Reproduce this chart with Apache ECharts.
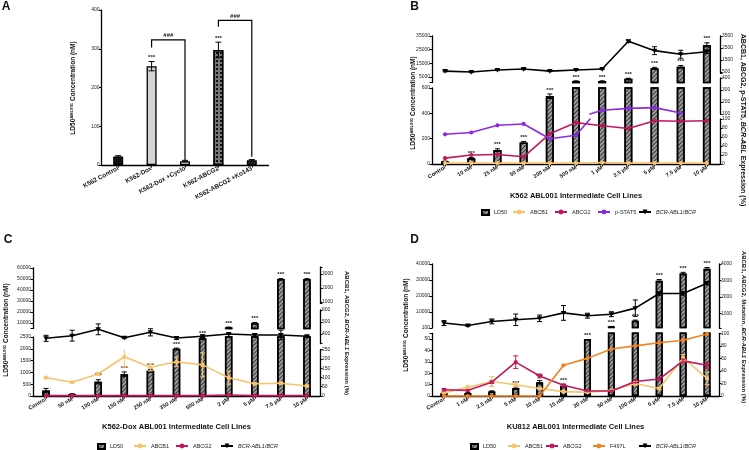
<!DOCTYPE html>
<html><head><meta charset="utf-8">
<script src="https://cdn.jsdelivr.net/npm/echarts@6/dist/echarts.min.js"></script>
<style>html,body{margin:0;padding:0;background:#fff}#c{width:749px;height:450px}</style>
</head><body><div id="c"></div>
<script>
// ---------------- DATA ----------------
// Panel A
const aCats = ['K562 Control','K562-Dox','K562-Dox +Cyclo','K562-ABCG2','K562-ABCG2 +Ko143'];
const aLD50 = [22, 255, 10, 297, 12];
const aLD50Err = [2, 12, 2, 20, 2];
const aStars = [0, 3, 0, 3, 0];
// [from category, to category, left start value, top value, right end value]
const aBrackets = [[1, 2, 303, 323, 13], [3, 4, 357, 373, 21]];

// Panel B
const bCats = ['Control','10 nM','25 nM','50 nM','200 nM','500 nM','1 µM','2.5 µM','5 µM','7.5 µM','10 µM'];
const bLD50 = [20, 45, 110, 170, 535, 2000, 2000, 3800, 11500, 12500, 28500];
const bLD50Err = [3, 6, 10, 8, 18, 200, 200, 300, 600, 900, 1500];
const bStars = [0, 3, 3, 3, 3, 3, 3, 3, 3, 3, 3];
const bABCB1 = [2, 2, 2, 2, 2, 2, 3, 2, 2, 2, 2];
const bABCG2 = [13, 20, 21, 16, 67, 92, 85, 79, 96, 95, 96];
const bPSTAT5 = [66, 70, 86, 89, 56, 64, 131, 147, 153, 108];
const bBCR = [580, 500, 670, 750, 580, 670, 750, 3060, 2280, 1980, 2190];
const bBCRErr = [60, 50, 50, 60, 50, 50, 50, 100, 330, 330, 150];

// Panel C
const cCats = ['Control','50 nM','100 nM','150 nM','250 nM','350 nM','500 nM','2 µM','5 µM','7.5 µM','10 µM'];
const cLD50 = [230, 80, 600, 920, 1070, 2000, 2450, 6000, 10000, 50000, 50000];
const cLD50Err = [90, 20, 90, 100, 60, 30, 50, 300, 500, 300, 300];
const cStars = [0, 0, 3, 3, 3, 3, 3, 3, 3, 3, 3];
const cABCB1 = [99, 74, 119, 212, 155, 185, 168, 99, 66, 69, 54];
const cABCB1Err = [5, 4, 8, 55, 20, 25, 65, 35, 5, 5, 5];
const cABCG2 = [2, 2, 2, 2, 2, 2, 2, 5, 2, 2, 2];
const cBCR = [364, 386, 439, 369, 414, 367, 381, 400, 392, 392, 381];
const cBCRErr = [25, 45, 45, 8, 30, 12, 10, 5, 12, 40, 5];

// Panel D
const dCats = ['Control','1 nM','2.5 nM','5 nM','10 nM','15 nM','20 nM','50 nM','100 nM','5 µM','7.5 µM','10 µM'];
const dLD50 = [2.5, 2.5, 4, 7, 12, 9, 50, 1000, 4600, 29500, 34000, 37000];
const dLD50Err = [0.5, 0.5, 0.5, 1, 1.5, 1, 0, 100, 400, 800, 800, 800];
const dStars = [0, 0, 1, 3, 3, 3, 3, 3, 3, 3, 3, 3];
const dABCB1 = [5, 14, 23, 18, 12, 7, 6, 9, 20, 12, 61, 28];
const dABCB1Err = [1, 2, 8, 3, 2, 1, 1, 1, 3, 2, 5, 10];
const dABCG2 = [10, 9, 22, 54, 32, 17, 8, 8, 23, 27, 56, 49];
const dABCG2Err = [2, 1, 2, 10, 3, 2, 1, 1, 2, 2, 3, 5];
const dF497L = [0, 0, 0, 0, 0, 49, 60, 75, 80, 85, 89, 99];
const dBCR = [400, 250, 500, 600, 690, 1020, 850, 940, 1310, 2200, 2200, 2830];
const dBCRErr = [150, 50, 150, 350, 200, 450, 150, 150, 500, 100, 100, 100];

// ---------------- STYLE / BUILD ----------------
const FONT = 'Liberation Sans, Arial, Helvetica, sans-serif';
const COL = {ABCB1:'#f7c46c', ABCG2:'#c2185b', PSTAT5:'#8a2be2', F497L:'#f4831f', BCR:'#000000'};
const hatch = {symbol:'rect', symbolSize:1, dashArrayX:[1,0], dashArrayY:[1,1.5], rotation:-Math.PI/4, color:'rgba(20,20,20,0.75)'};
const checker = {symbol:'rect', symbolSize:1, dashArrayX:[2,2], dashArrayY:[2,2], rotation:0, color:'#111'};
const ldStyle = {color:'#9c9c9c', borderColor:'#000', borderWidth:1.5, decal:hatch};

const option = {animation:false, backgroundColor:'#fff', grid:[], xAxis:[], yAxis:[], series:[], legend:[], graphic:[]};

function addGrid(p) {
  const gi = option.grid.length;
  option.grid.push({left:p.left, top:p.top, width:p.width, height:p.height, containLabel:false, outerBoundsMode:'none'});
  const x = {type:'category', gridIndex:gi, data:p.cats, boundaryGap:true,
    axisLine:{show:false}, axisTick:{show:false}, axisLabel:{show:false}, splitLine:{show:false}};
  if (p.bottom) {
    x.axisLine = {show:true, onZero:false, lineStyle:{color:'#000', width:1.3}};
    x.axisTick = {show:true, alignWithLabel:true, length:2.5, lineStyle:{color:'#000', width:1}};
    x.axisLabel = {show:true, interval:0, rotate:p.rot, fontSize:p.catFont, fontWeight:'bold', fontFamily:FONT, color:'#111', margin:3};
    if (p.xName) {
      x.name = p.xName; x.nameLocation = 'middle'; x.nameGap = p.nameGap;
      x.nameTextStyle = {fontSize:7.5, fontWeight:'bold', fontFamily:FONT, color:'#111'};
    }
  }
  option.xAxis.push(x);
  const y = {type:'value', gridIndex:gi, position:p.pos, min:p.min, max:p.max, splitLine:{show:false},
    axisLine:{show:true, lineStyle:{color:'#000', width:1.3}},
    axisTick:{show:true, length:2.5, lineStyle:{color:'#000', width:1}},
    axisLabel:{fontSize:5, fontFamily:FONT, color:'#222', margin:2, formatter:function (v) { return String(v); }}};
  if (p.labels) {
    y.axisLabel.customValues = p.labels;
    y.axisTick.customValues = Array.from(new Set(p.labels.concat([p.min, p.max])));
  } else {
    y.interval = p.interval;
  }
  option.yAxis.push(y);
  return {gi:gi, min:p.min, max:p.max};
}

function addBars(seg, name, data, style, barWidth) {
  option.series.push({type:'bar', name:name, xAxisIndex:seg.gi, yAxisIndex:seg.gi, data:data,
    barWidth:barWidth, itemStyle:style, clip:true, z:2, silent:true});
}

// Line drawn through the axis scale, clipped exactly to one segment of a broken axis.
function addLine(seg, vals, color, tri) {
  const data = vals.map((v, i) => [i, v == null ? NaN : v,
    (i + 1 < vals.length && vals[i + 1] != null) ? vals[i + 1] : NaN]);
  option.series.push({type:'custom', xAxisIndex:seg.gi, yAxisIndex:seg.gi, clip:false, z: tri ? 6 : 4, silent:true, data:data,
    renderItem: function (params, api) {
      const i = api.value(0), v = api.value(1), vn = api.value(2);
      const inR = function (x) { return x >= seg.min && x <= seg.max; };
      const ch = [];
      if (!isNaN(v) && !isNaN(vn)) {
        let t0 = 0, t1 = 1;
        if (v === vn) { if (!inR(v)) t1 = -1; }
        else {
          const tA = (seg.min - v) / (vn - v), tB = (seg.max - v) / (vn - v);
          t0 = Math.max(0, Math.min(tA, tB)); t1 = Math.min(1, Math.max(tA, tB));
        }
        if (t1 > t0) {
          const p0 = api.coord([i, v]), p1 = api.coord([i + 1, vn]);
          ch.push({type:'line', shape:{
            x1:p0[0] + (p1[0] - p0[0]) * t0, y1:p0[1] + (p1[1] - p0[1]) * t0,
            x2:p0[0] + (p1[0] - p0[0]) * t1, y2:p0[1] + (p1[1] - p0[1]) * t1},
            style:{stroke:color, lineWidth:1.6, lineCap:'round'}});
        }
      }
      if (!isNaN(v) && inR(v)) {
        const p = api.coord([i, v]);
        if (tri) ch.push({type:'polygon', shape:{points:[[p[0] - 2.8, p[1] - 2], [p[0] + 2.8, p[1] - 2], [p[0], p[1] + 2.6]]}, style:{fill:color}});
        else ch.push({type:'circle', shape:{cx:p[0], cy:p[1], r:2.1}, style:{fill:color}});
      }
      return {type:'group', children:ch};
    }});
}

function addErr(seg, vals, errs, stars, color, capW, z) {
  const data = vals.map((v, i) => [i, v == null ? NaN : v, errs ? errs[i] : 0, stars ? stars[i] : 0]);
  option.series.push({type:'custom', xAxisIndex:seg.gi, yAxisIndex:seg.gi, clip:false, z:z || 5, silent:true, data:data,
    renderItem: function (params, api) {
      const i = api.value(0), v = api.value(1), e = api.value(2), s = api.value(3);
      if (!(v >= seg.min && v <= seg.max)) return null;
      const hi = Math.min(v + e, seg.max), lo = Math.max(v - e, seg.min);
      const ph = api.coord([i, hi]), pl = api.coord([i, lo]);
      const ch = [];
      const st = {stroke:color, lineWidth:1};
      if (e > 0) {
        ch.push({type:'line', shape:{x1:ph[0], y1:ph[1], x2:pl[0], y2:pl[1]}, style:st});
        if (v + e <= seg.max) ch.push({type:'line', shape:{x1:ph[0] - capW, y1:ph[1], x2:ph[0] + capW, y2:ph[1]}, style:st});
        if (v - e >= seg.min) ch.push({type:'line', shape:{x1:pl[0] - capW, y1:pl[1], x2:pl[0] + capW, y2:pl[1]}, style:st});
      }
      if (s > 0) {
        ch.push({type:'text', x:ph[0], y:ph[1] - 1, style:{text:'*'.repeat(s), fontSize:6, fontWeight:'bold',
          fontFamily:FONT, fill:'#222', align:'center', verticalAlign:'bottom'}});
      }
      return {type:'group', children:ch};
    }});
}

// legend-only line series (no data) so legend icons show line + marker
function legendSeries(name, color, tri) {
  option.series.push({type:'line', name:name, xAxisIndex:0, yAxisIndex:0, data:[],
    symbol: tri ? 'triangle' : 'circle', symbolSize: tri ? 5 : 4, symbolRotate: tri ? 180 : 0,
    lineStyle:{color:color, width:1.5}, itemStyle:{color:color}});
}

function legendItem(name, left, top, icon) {
  option.legend.push({data:[{name:name, icon:icon}], left:left, top:top, selectedMode:false,
    itemWidth: icon === 'rect' ? 7 : 12, itemHeight: icon === 'rect' ? 5 : 6, padding:0,
    textStyle:{fontSize:5.5, fontFamily:FONT, color:'#222',
      rich:{i:{fontStyle:'italic', fontSize:5.5, fontFamily:FONT, color:'#222'}}},
    formatter: function (n) { return n === 'BCR-ABL1/BCR' ? '{i|BCR-ABL1}/{i|BCR}' : n; }});
}

function gText(text, x, y, rot, size, rich) {
  option.graphic.push({type:'text', x:x, y:y, rotation:rot, silent:true,
    style:{text:text, fontSize:size, fontWeight:'bold', fontFamily:FONT, fill:'#111', align:'center', verticalAlign:'middle',
      rich: rich || {}}});
}
const supRich = {s:{fontSize:4.3, fontWeight:'bold', fontFamily:FONT, fill:'#111', verticalAlign:'top'}};
const itRich = {i:{fontSize:6, fontWeight:'bold', fontStyle:'italic', fontFamily:FONT, fill:'#111'}};
const itRichB = {i:{fontSize:7, fontWeight:'bold', fontStyle:'italic', fontFamily:FONT, fill:'#111'}};

// ---------------- PANEL A ----------------
const aG = addGrid({left:101.5, top:10, width:167, height:155, cats:aCats, pos:'left', min:0, max:400, interval:100,
  bottom:true, rot:28, catFont:6.3});
const aStyles = [{color:'#111'}, {color:'#d4d4d4'}, {color:'#ececec'}, {color:'#777', decal:checker}, {color:'#2a2a2a'}];
addBars(aG, 'A', aLD50.map((v, i) => ({value:v, itemStyle:Object.assign({borderColor:'#000', borderWidth:1.3}, aStyles[i])})), {}, 10);
addErr(aG, aLD50, aLD50Err, aStars, '#000', 3, 5);
option.series.push({type:'custom', xAxisIndex:aG.gi, yAxisIndex:aG.gi, clip:false, z:6, silent:true, data:aBrackets,
  renderItem: function (params, api) {
    const x1 = api.value(0), x2 = api.value(1), l = api.value(2), t = api.value(3), r = api.value(4);
    const a = api.coord([x1, l]), b = api.coord([x1, t]), c = api.coord([x2, t]), d = api.coord([x2, r]);
    return {type:'group', children:[
      {type:'polyline', shape:{points:[a, b, c, d]}, style:{stroke:'#000', lineWidth:1.2, fill:null}},
      {type:'text', x:(b[0] + c[0]) / 2, y:b[1] - 1.5, style:{text:'###', fontSize:6, fontWeight:'bold', fontFamily:FONT,
        fill:'#222', align:'center', verticalAlign:'bottom'}}]};
  }});
gText('A', 6, 7, 0, 12);
gText('LD50{s|ABL001} Concentration (nM)', 73, 88, Math.PI / 2, 6.5, supRich);

legendSeries('ABCB1', COL.ABCB1);
legendSeries('ABCG2', COL.ABCG2);
legendSeries('p-STAT5', COL.PSTAT5);
legendSeries('F497L', COL.F497L);
legendSeries('BCR-ABL1/BCR', COL.BCR, true);

// ---------------- PANEL B ----------------
const BX = {left:432, width:288, cats:bCats};
const bLU = addGrid(Object.assign({top:36, height:46.5, pos:'left', min:1000, max:35000, labels:[5000, 15000, 25000, 35000]}, BX));
const bLL = addGrid(Object.assign({top:88, height:76, pos:'left', min:0, max:600, interval:200, bottom:true, rot:32, catFont:5.5,
  xName:'K562 ABL001 Intermediate Cell Lines', nameGap:28}, BX));
const bRU = addGrid(Object.assign({top:36, height:37, pos:'right', min:420, max:3500, labels:[500, 1500, 2500, 3500]}, BX));
const bRM = addGrid(Object.assign({top:78, height:36, pos:'right', min:100, max:400, labels:[100, 200, 300, 400]}, BX));
const bRL = addGrid(Object.assign({top:119, height:45, pos:'right', min:0, max:100, interval:20}, BX));
[bLU, bLL].forEach(s => { addBars(s, 'LD50', bLD50, ldStyle, 8); addErr(s, bLD50, bLD50Err, bStars, '#000', 2.5, 3); });
[bRU, bRM, bRL].forEach(s => {
  addLine(s, bABCB1, COL.ABCB1);
  addLine(s, bABCG2, COL.ABCG2);
  addLine(s, bPSTAT5, COL.PSTAT5);
  addLine(s, bBCR, COL.BCR, true);
  addErr(s, bBCR, bBCRErr, null, '#000', 2.5, 7);
});
legendItem('LD50', 481, 209, 'rect');
legendItem('ABCB1', 512, 209);
legendItem('ABCG2', 554, 209);
legendItem('p-STAT5', 597, 209);
legendItem('BCR-ABL1/BCR', 638, 209);
gText('B', 414.5, 7, 0, 12);
gText('LD50{s|ABL001} Concentration (nM)', 413, 103, Math.PI / 2, 6.5, supRich);
gText('ABCB1, ABCG2, p-STAT5, {i|BCR-ABL} Expression (%)', 743, 120, -Math.PI / 2, 7, itRichB);

// ---------------- PANEL C ----------------
const CX = {left:33, width:287, cats:cCats};
const cLU = addGrid(Object.assign({top:268, height:60.5, pos:'left', min:5000, max:60000, labels:[10000, 20000, 30000, 40000, 50000, 60000]}, CX));
const cLL = addGrid(Object.assign({top:337, height:59, pos:'left', min:0, max:2500, interval:500, bottom:true, rot:30, catFont:5.5,
  xName:'K562-Dox ABL001 Intermediate Cell Lines', nameGap:27}, CX));
const cRU = addGrid(Object.assign({top:267, height:36.4, pos:'right', min:900, max:3500, labels:[1000, 2000, 3000]}, CX));
const cRM = addGrid(Object.assign({top:310, height:33.6, pos:'right', min:320, max:600, labels:[400, 500, 600]}, CX));
const cRL = addGrid(Object.assign({top:349.7, height:46.3, pos:'right', min:0, max:250, interval:50}, CX));
[cLU, cLL].forEach(s => { addBars(s, 'LD50', cLD50, ldStyle, 7.5); addErr(s, cLD50, cLD50Err, cStars, '#000', 2.5, 3); });
[cRU, cRM, cRL].forEach(s => {
  addLine(s, cABCB1, COL.ABCB1);
  addErr(s, cABCB1, cABCB1Err, null, COL.ABCB1, 2.5, 5);
  addLine(s, cABCG2, COL.ABCG2);
  addLine(s, cBCR, COL.BCR, true);
  addErr(s, cBCR, cBCRErr, null, '#000', 2.5, 7);
});
legendItem('LD50', 97, 443, 'rect');
legendItem('ABCB1', 133, 443);
legendItem('ABCG2', 175, 443);
legendItem('BCR-ABL1/BCR', 220, 443);
gText('C', 8, 239.5, 0, 12);
gText('LD50{s|ABL001} Concentration (nM)', 6, 330, Math.PI / 2, 6.5, supRich);
gText('ABCB1, ABCG2, {i|BCR-ABL1} Expression (%)', 347, 333, -Math.PI / 2, 6, itRich);

// ---------------- PANEL D ----------------
const DX = {left:432, width:287, cats:dCats};
const dLU = addGrid(Object.assign({top:264, height:64, pos:'left', min:100, max:40000, labels:[100, 10000, 20000, 30000, 40000]}, DX));
const dLL = addGrid(Object.assign({top:333.3, height:62.7, pos:'left', min:0, max:55, labels:[0, 10, 20, 30, 40, 50], bottom:true, rot:30, catFont:5.5,
  xName:'KU812 ABL001 Intermediate Cell Lines', nameGap:27}, DX));
const dRU = addGrid(Object.assign({top:264, height:64, pos:'right', min:100, max:4000, labels:[1000, 2000, 3000, 4000]}, DX));
const dRL = addGrid(Object.assign({top:333.3, height:62.7, pos:'right', min:0, max:100, interval:20}, DX));
[dLU, dLL].forEach(s => { addBars(s, 'LD50', dLD50, ldStyle, 7); addErr(s, dLD50, dLD50Err, dStars, '#000', 2.5, 3); });
[dRU, dRL].forEach(s => {
  addLine(s, dABCB1, COL.ABCB1);
  addErr(s, dABCB1, dABCB1Err, null, COL.ABCB1, 2.5, 5);
  addLine(s, dABCG2, COL.ABCG2);
  addErr(s, dABCG2, dABCG2Err, null, COL.ABCG2, 2.5, 5);
  addLine(s, dF497L, COL.F497L);
  addLine(s, dBCR, COL.BCR, true);
  addErr(s, dBCR, dBCRErr, null, '#000', 2.5, 7);
});
legendItem('LD50', 470, 443, 'rect');
legendItem('ABCB1', 507, 443);
legendItem('ABCG2', 545, 443);
legendItem('F497L', 592, 443);
legendItem('BCR-ABL1/BCR', 638, 443);
gText('D', 414.5, 239.5, 0, 12);
gText('LD50{s|ABL001} Concentration (nM)', 406, 325, Math.PI / 2, 6.5, supRich);
gText('ABCB1, ABCG2, Mutation, {i|BCR-ABL1} Expression (%)', 744, 327, -Math.PI / 2, 6, itRich);

const chart = echarts.init(document.getElementById('c'), null, {renderer:'canvas'});
chart.setOption(option);
</script>
</body></html>
